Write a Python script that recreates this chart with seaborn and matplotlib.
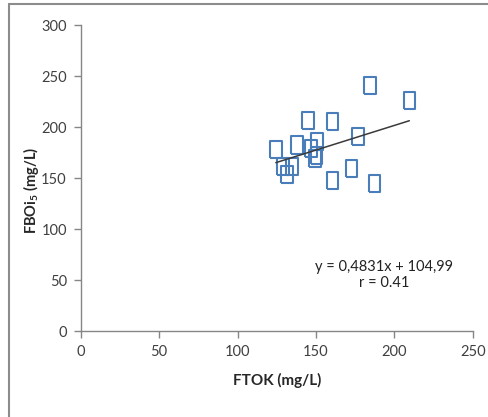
import numpy as np
import pandas as pd
import matplotlib
matplotlib.use('Agg')
import matplotlib.pyplot as plt
from matplotlib.lines import Line2D
import seaborn as sns

# === 資料 ===
ftok = [184.5, 209.5, 144.8, 160.5, 176.6, 124.4, 137.8, 150.5, 146.9,
        149.2, 150.3, 128.9, 134.6, 131.4, 160.5, 172.6, 187.4]
fboi5 = [240.5, 225.8, 206.6, 205.9, 190.5, 178.1, 182.4, 186.3, 179.1,
         169.3, 172.0, 161.8, 161.8, 153.9, 148.0, 159.5, 145.0]
slope = 0.4831
intercept = 104.99
eq_text = 'y = 0,4831x + 104,99'
r_text = 'r = 0.41'

df = pd.DataFrame({'FTOK': ftok, 'FBOi5': fboi5})

# === 樣式 ===
sns.set_theme(style='white')
font = ['Lato', 'DejaVu Sans']
plt.rcParams['font.family'] = font
plt.rcParams['mathtext.fontset'] = 'custom'
plt.rcParams['mathtext.rm'] = 'Lato'
plt.rcParams['mathtext.bf'] = 'Lato:bold'

fig = plt.figure(figsize=(4.89, 4.17), dpi=100)
ax = fig.add_axes([0.165, 0.206, 0.802, 0.734])

# 外框線
fig.add_artist(Line2D([9 / 489, 9 / 489], [0, 1 - 4 / 417], color='#8c8c8c', lw=1.5))
fig.add_artist(Line2D([9 / 489, 1], [1 - 4 / 417, 1 - 4 / 417], color='#8c8c8c', lw=1.5))

box = [(-0.68, -1), (0.68, -1), (0.68, 1), (-0.68, 1), (-0.68, -1)]
sns.scatterplot(data=df, x='FTOK', y='FBOi5', marker=box, s=150,
                facecolor='none', edgecolor='#4a7ebb', linewidth=1.5, ax=ax)

# 趨勢線
xl = np.array([min(ftok), max(ftok)])
ax.plot(xl, slope * xl + intercept, color='#3a3a3a', lw=1.1)

ax.text(193.5, 63, eq_text, ha='center', va='center', fontsize=10.5, color='#222222')
ax.text(193.5, 47, r_text, ha='center', va='center', fontsize=10.5, color='#222222')

ax.set_xlim(0, 250)
ax.set_ylim(0, 300)
ax.set_xticks(range(0, 251, 50))
ax.set_yticks(range(0, 301, 50))
ax.set_xlabel('FTOK (mg/L)', fontsize=11, fontweight='bold', labelpad=10)
ax.set_ylabel(r'FBOi$_{\mathbf{5}}$ (mg/L)', fontsize=10.5, fontweight='bold')
ax.yaxis.set_label_coords(-0.102, 0.46)

for s in ['top', 'right']:
    ax.spines[s].set_visible(False)
for s in ['left', 'bottom']:
    ax.spines[s].set_color('#868686')
    ax.spines[s].set_linewidth(1.0)
ax.tick_params(axis='both', which='major', direction='out', length=5, width=1,
               color='#868686', labelsize=10.5, labelcolor='#404040', pad=5,
               left=True, bottom=True)
ax.grid(False)

plt.savefig('out.png', dpi=100)
plt.close()
